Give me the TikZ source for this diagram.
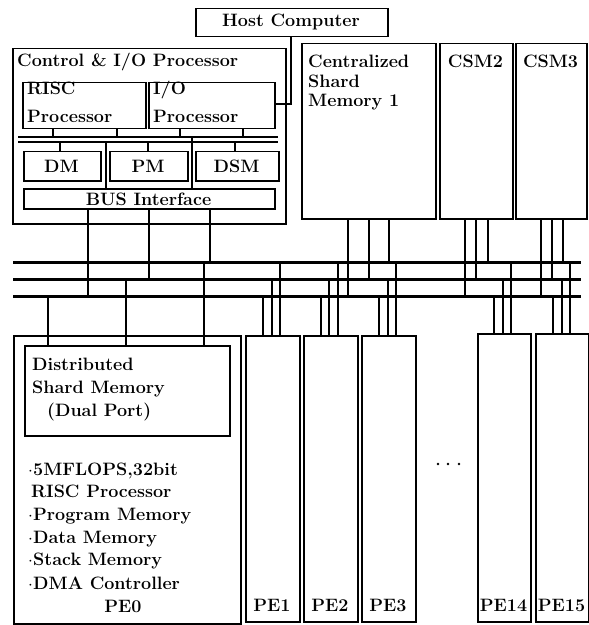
\documentclass[tikz,border=0pt]{standalone}
\usepackage{fontspec}
\begin{document}
\begin{tikzpicture}[x=1bp,y=-1bp,
  box/.style={draw, line width=1.5bp, inner sep=0pt, anchor=north west},
  wire/.style={line width=1.3bp},
  bus/.style={line width=3bp},
  txt/.style={inner sep=0pt, anchor=base west, font=\fontsize{18}{23}\selectfont\bfseries},
  ctxt/.style={inner sep=0pt, anchor=base, font=\fontsize{18}{23}\selectfont\bfseries}]
\useasboundingbox (0,0) rectangle (589,625);
\newcommand\pbox[5]{\node[box, minimum width=#4bp, minimum height=#5bp] (#1) at (#2,#3) {};}
\newcommand\link[3]{\draw[wire] (#1,0 |- #2) -- (#1,0 |- #3);}
\newcommand\bul{\makebox[5bp][l]{$\cdot$}}
% boxes
\pbox{host}{195}{8}{192}{28}
\pbox{ctrl}{12}{48}{273}{175}
\pbox{risc}{22}{82}{123}{46}
\pbox{io}{148}{82}{126}{46}
\pbox{dm}{23}{151}{77}{29}
\pbox{pm}{109}{151}{78}{29}
\pbox{dsm}{195}{151}{83}{29}
\pbox{busif}{23}{188}{251}{20}
\pbox{csm1}{301}{43}{134}{175}
\pbox{csm2}{439}{43}{73}{175}
\pbox{csm3}{515}{43}{71}{175}
\pbox{pe0}{13}{335}{227}{288}
\pbox{dshm}{24}{345}{205}{90}
\pbox{pe1}{245}{335}{54}{286}
\pbox{pe2}{303}{335}{54}{286}
\pbox{pe3}{361}{335}{54}{286}
\pbox{pe14}{477}{333}{53}{288}
\pbox{pe15}{535}{333}{53}{288}
% texts
\node[ctxt] (thost) at (291,27) {Host Computer};
\node[txt] (tctrl) at (17,67) {Control \& I/O Processor};
\node[txt] (trisc1) at (27,95) {RISC};
\node[txt] (trisc2) at (27,123) {Processor};
\node[txt] (tio1) at (153,95) {I/O};
\node[txt] (tio2) at (153,123) {Processor};
\node[ctxt] (tdm) at (61.5,173) {DM};
\node[ctxt] (tpm) at (148,173) {PM};
\node[ctxt] (tdsm) at (236.5,173) {DSM};
\node[ctxt] (tbusif) at (148.5,205) {BUS Interface};
\node[txt] (tcsm1a) at (308,68) {Centralized};
\node[txt] (tcsm1b) at (308,88) {Shard};
\node[txt] (tcsm1c) at (308,107) {Memory 1};
\node[ctxt] (tcsm2) at (475.5,68) {CSM2};
\node[ctxt] (tcsm3) at (550.5,68) {CSM3};
\node[txt] (tdsh1) at (32,370) {Distributed};
\node[txt] (tdsh2) at (32,393) {Shard Memory};
\node[txt] (tdsh3) at (47,416) {(Dual Port)};
\node[txt] (tl1) at (28,475) {\bul 5MFLOPS,32bit};
\node[txt] (tl2) at (31,497) {RISC Processor};
\node[txt] (tl3) at (28,520) {\bul Program Memory};
\node[txt] (tl4) at (28,543) {\bul Data Memory};
\node[txt] (tl5) at (28,565) {\bul Stack Memory};
\node[txt] (tl6) at (28,589) {\bul DMA Controller};
\node[ctxt] (tpe0) at (123,612) {PE0};
\node[ctxt] (tpe1) at (272,611) {PE1};
\node[ctxt] (tpe2) at (330,611) {PE2};
\node[ctxt] (tpe3) at (388,611) {PE3};
\node[ctxt] (tpe14) at (503.5,611) {PE14};
\node[ctxt] (tpe15) at (561.5,611) {PE15};
\fill (438,464) circle (1.3) (448,464) circle (1.3) (459,464) circle (1.3);
% inner bus
\coordinate (ib1w) at (18,137); \coordinate (ib1e) at (278,137);
\coordinate (ib2w) at (18,142); \coordinate (ib2e) at (278,142);
\draw[wire] (ib1w) -- (ib1e);
\draw[wire] (ib2w) -- (ib2e);
\link{53}{risc.south}{ib1w}
\link{117}{risc.south}{ib1w}
\link{180}{io.south}{ib1w}
\link{243}{io.south}{ib1w}
\link{60}{ib2w}{dm.north}
\link{148}{ib2w}{pm.north}
\link{235}{ib2w}{dsm.north}
\link{106}{ib2w}{busif.north}
\link{192}{ib1w}{busif.north}
\draw[wire] (io.east |- 0,104) -- (291,104) -- (291,0 |- host.south);
% main buses
\coordinate (bTw) at (13,262); \coordinate (bTe) at (581,262);
\coordinate (bMw) at (13,279); \coordinate (bMe) at (581,279);
\coordinate (bBw) at (13,296); \coordinate (bBe) at (581,296);
\draw[bus] (bTw) -- (bTe);
\draw[bus] (bMw) -- (bMe);
\draw[bus] (bBw) -- (bBe);
% control processor
\link{88}{busif.south}{bBw}
\link{149}{busif.south}{bMw}
\link{210}{busif.south}{bTw}
% CSMs
\link{348}{csm1.south}{bBw}
\link{369}{csm1.south}{bMw}
\link{389}{csm1.south}{bTw}
\link{465}{csm2.south}{bBw}
\link{476}{csm2.south}{bMw}
\link{488}{csm2.south}{bTw}
\link{541}{csm3.south}{bBw}
\link{552}{csm3.south}{bMw}
\link{563}{csm3.south}{bTw}
% PEs
\link{48}{bBw}{dshm.north}
\link{126}{bMw}{dshm.north}
\link{204}{bTw}{dshm.north}
\link{263}{bBw}{pe1.north}
\link{272}{bMw}{pe1.north}
\link{280}{bTw}{pe1.north}
\link{321}{bBw}{pe2.north}
\link{329}{bMw}{pe2.north}
\link{338}{bTw}{pe2.north}
\link{379}{bBw}{pe3.north}
\link{388}{bMw}{pe3.north}
\link{396}{bTw}{pe3.north}
\link{494}{bBw}{pe14.north}
\link{503}{bMw}{pe14.north}
\link{511}{bTw}{pe14.north}
\link{553}{bBw}{pe15.north}
\link{562}{bMw}{pe15.north}
\link{570}{bTw}{pe15.north}
\end{tikzpicture}
\end{document}
